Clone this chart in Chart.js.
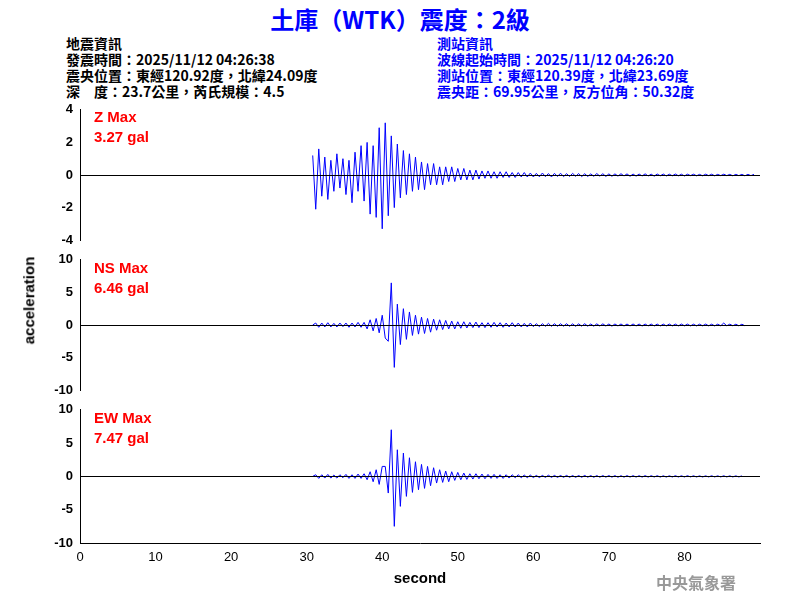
<!DOCTYPE html>
<html><head><meta charset="utf-8">
<script src="https://cdn.jsdelivr.net/npm/chart.js@4/dist/chart.umd.min.js"></script>
<style>
body{margin:0;width:800px;height:600px;background:#fff;position:relative;overflow:hidden;font-family:"Noto Sans CJK TC","DejaVu Sans",sans-serif}
.t{position:absolute;white-space:nowrap}
canvas{position:absolute;left:0}
.lab{position:absolute;left:94px;color:#f00;font:bold 15px "Liberation Sans",Arial,sans-serif;line-height:20px}
</style></head><body>
<div class="t" style="left:0;width:800px;top:1px;text-align:center;color:#0000ff;font-weight:bold;font-size:24px">土庫（WTK）震度：2級</div>
<div class="t" style="left:66px;top:35px;font-size:14px;line-height:16px;color:#000;font-weight:bold">地震資訊<br>發震時間：2025/11/12 04:26:38<br>震央位置：東經120.92度，北緯24.09度<br>深　度：23.7公里，芮氏規模：4.5</div>
<div class="t" style="left:437px;top:35px;font-size:14px;line-height:16px;color:#0000ff;font-weight:bold">測站資訊<br>波線起始時間：2025/11/12 04:26:20<br>測站位置：東經120.39度，北緯23.69度<br>震央距：69.95公里，反方位角：50.32度</div>
<canvas id="c1" width="800" height="150" style="top:100px;width:800px;height:150px"></canvas>
<canvas id="c2" width="800" height="150" style="top:250px;width:800px;height:150px"></canvas>
<canvas id="c3" width="800" height="200" style="top:400px;width:800px;height:200px"></canvas>
<div class="lab" style="top:107px">Z Max<br>3.27 gal</div>
<div class="lab" style="top:258px">NS Max<br>6.46 gal</div>
<div class="lab" style="top:408px">EW Max<br>7.47 gal</div>
<div class="t" style="left:-15px;top:292px;transform:rotate(-90deg);font:bold 15px 'Liberation Sans',Arial,sans-serif">acceleration</div>
<div class="t" style="left:656px;top:570px;color:#999;font-weight:bold;font-size:16px">中央氣象署</div>
<script>
const startTime = 30.8, step = 0.4;
const zValues = [1.2,-2.1,1.6,-1.3,1.1,-1.5,0.9,-1.0,1.3,-0.8,1.0,
-1.2,0.9,-1.7,1.4,-1.0,1.8,-1.6,
2.0,-2.4,1.8,-2.6,2.9,-3.3,3.2,-2.5,2.4,-2.0,1.9,-1.4,
1.5,-1.2,1.3,-1.0,1.1,-0.9,0.8,-0.9,0.7,-0.6,0.7,
-0.6,0.5,-0.6,0.5,-0.4,0.5,-0.4,0.4,-0.3,0.4,-0.3,0.3,
-0.3,0.3,-0.25,0.25,-0.2,0.25,-0.2,0.2,-0.2,0.2,-0.15,0.2,-0.15,0.15,-0.15,0.15,-0.12,0.15,-0.12,0.12,
-0.12,0.1,-0.11,0.12,-0.1,0.09,-0.12,0.1,-0.09,0.11,-0.1,0.08,-0.09,0.1,-0.08,0.09,-0.1,0.08,-0.09,0.07,-0.08,0.09,-0.07,0.08,-0.09,0.07,-0.08,0.07,-0.07,0.08,-0.06,0.07,-0.08,0.06,-0.07,0.06,-0.06,0.07,-0.06,0.05,-0.07,0.06,-0.05,0.06,-0.06,0.05,-0.05,0.06,-0.05,0.05,-0.06,0.05,-0.04,0.05,-0.05,0.04,-0.05,0.05,-0.04,0.05,-0.05,0.04,-0.04,0.05,-0.04,0.04,-0.05,0.04,-0.04,0.04,-0.05,0.04,-0.04,0.04];
const nsValues = [0,0.3,-0.35,0.3,-0.3,0.35,-0.3,0.25,-0.3,0.3,-0.25,0.3,-0.35,0.3,-0.3,0.4,-0.35,0.4,
-0.6,0.8,-0.9,1.0,-1.2,1.5,-2.0,-2.5,6.46,-6.5,
3.2,-3.0,2.5,-2.2,2.0,
-1.6,1.5,-1.4,1.2,-1.3,1.0,-1.1,0.9,
-0.8,0.8,-0.7,0.7,-0.6,0.6,-0.6,0.5,-0.5,0.5,
-0.45,0.4,-0.4,0.45,-0.4,0.35,-0.4,0.35,-0.35,0.4,-0.3,0.35,-0.35,0.3,-0.3,0.35,-0.3,0.3,-0.3,0.25,-0.3,0.3,
-0.25,0.2,-0.25,0.2,-0.2,0.25,-0.2,0.2,-0.2,0.2,-0.18,0.2,-0.2,0.18,-0.2,0.18,-0.18,0.2,-0.18,0.16,-0.18,0.18,-0.16,0.18,-0.16,0.16,-0.18,0.16,-0.15,0.16,-0.16,0.15,-0.15,0.16,-0.15,0.15,-0.16,0.15,-0.14,0.15,-0.15,0.14,-0.15,0.14,-0.14,0.15,-0.14,0.14,-0.14,0.15,-0.13,0.14,-0.14,0.13,-0.14,0.13,-0.13,0.14,-0.13,0.13,-0.14,0.13,-0.12,0.3,-0.12,0.13,-0.12,0.12,-0.13,0.12,-0.12];
const ewValues = [0,0.25,-0.3,0.25,-0.25,0.3,-0.25,0.2,-0.25,0.25,-0.2,0.3,-0.3,0.25,-0.3,0.35,-0.3,0.4,
-0.5,0.7,-0.8,1.0,-1.2,1.5,1.5,-2.5,7.0,-7.5,
4.0,-4.5,3.5,-3.0,2.8,
-2.4,2.2,-2.0,1.8,-1.8,1.5,-1.4,1.3,
-1.0,1.0,-0.9,0.8,-0.8,0.7,-0.6,0.6,-0.5,0.5,
-0.45,0.4,-0.4,0.4,-0.35,0.35,-0.35,0.3,-0.3,0.3,-0.3,0.25,-0.3,0.25,-0.25,0.25,-0.2,0.25,-0.2,0.2,-0.2,0.2,
-0.18,0.15,-0.18,0.15,-0.15,0.18,-0.15,0.15,-0.15,0.14,-0.14,0.15,-0.14,0.13,-0.14,0.13,-0.13,0.14,-0.12,0.12,-0.13,0.12,-0.12,0.12,-0.11,0.12,-0.11,0.11,-0.12,0.1,-0.11,0.11,-0.1,0.11,-0.1,0.1,-0.1,0.11,-0.1,0.1,-0.09,0.1,-0.1,0.09,-0.1,0.09,-0.09,0.1,-0.09,0.09,-0.09,0.1,-0.08,0.09,-0.09,0.08,-0.09,0.08,-0.08,0.09,-0.08,0.08,-0.08,0.09,-0.08,0.08,-0.08,0.08,-0.08,0.08];
const zTicks=[-4,-2,0,2,4], nsTicks=[-10,-5,0,5,10], xTicks=[0,10,20,30,40,50,60,70,80];

function pts(v){return v.map((y,i)=>({x:startTime+i*step,y}));}
const font={family:"'Liberation Sans',Arial,sans-serif",size:13,weight:'bold'};
const zeroLine={id:'zero',afterDatasetsDraw(c){const y=c.scales.y.getPixelForValue(0),a=c.chartArea,x=c.ctx;x.save();x.strokeStyle='#000';x.lineWidth=1;x.beginPath();x.moveTo(a.left,Math.round(y)+0.5);x.lineTo(a.right,Math.round(y)+0.5);x.stroke();x.restore();}};
function make(id,data,lim,ticks,showX){
  return new Chart(document.getElementById(id),{type:'line',
    data:{datasets:[{data:pts(data),borderColor:'#0000ff',borderWidth:1,pointRadius:0,tension:0}]},
    plugins:[zeroLine],
    options:{animation:false,responsive:false,devicePixelRatio:1,
      layout:{padding:{top:8,right:40,bottom:showX?0:7,left:0}},
      plugins:{legend:{display:false},tooltip:{enabled:false}},
      scales:{
        x:{type:'linear',min:0,max:90,display:showX,afterBuildTicks:s=>{s.ticks=xTicks.map(v=>({value:v}))},
           afterFit:s=>{s.height=showX?57:0},
           grid:{display:false,drawTicks:true,tickLength:5,tickColor:'#000'},border:{color:'#000'},
           ticks:{color:'#000',font:{...font,weight:'normal'},maxRotation:0,padding:2},
           title:{display:true,text:'second',color:'#000',font:{...font,size:15},padding:{top:6,bottom:12}}},
        y:{min:-lim,max:lim,afterBuildTicks:s=>{s.ticks=ticks.map(v=>({value:v}))},
           afterFit:s=>{s.width=80},
           grid:{display:false,tickLength:5,tickColor:'#000'},border:{color:'#000'},
           ticks:{color:'#000',font:font,padding:2}}
      }}});
}
make('c1',zValues,4,zTicks,false);
make('c2',nsValues,10,nsTicks,false);
make('c3',ewValues,10,nsTicks,true);
</script></body></html>
